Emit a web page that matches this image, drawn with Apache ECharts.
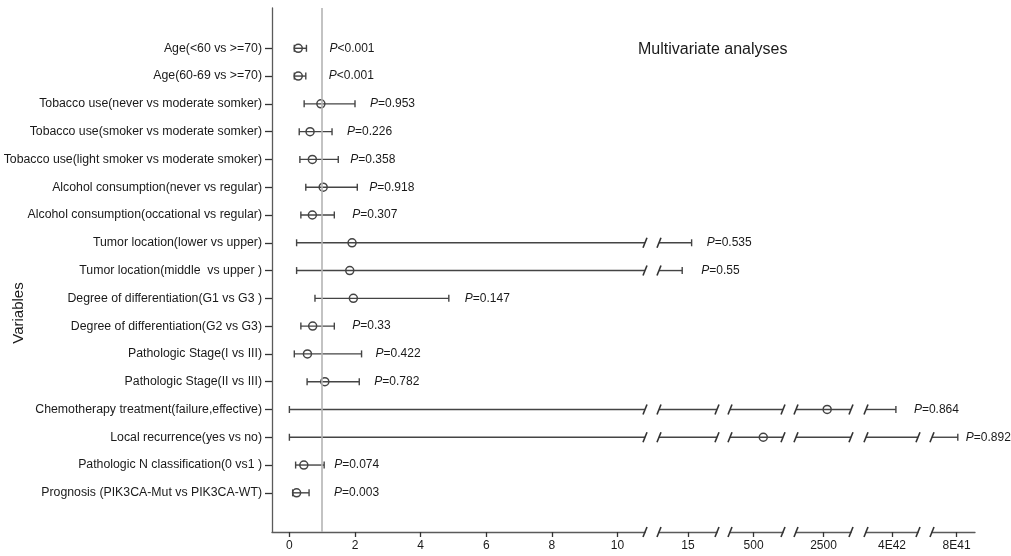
<!DOCTYPE html>
<html><head><meta charset="utf-8">
<script src="https://cdn.jsdelivr.net/npm/echarts@6/dist/echarts.min.js"></script>
<style>html,body{margin:0;padding:0;background:#fff}#c{width:1011px;height:556px}</style>
</head><body><div id="c"></div>
<script>
// ---------------- data ----------------
const categories = [
  'Age(<60 vs >=70)',
  'Age(60-69 vs >=70)',
  'Tobacco use(never vs moderate somker)',
  'Tobacco use(smoker vs moderate somker)',
  'Tobacco use(light smoker vs moderate smoker)',
  'Alcohol consumption(never vs regular)',
  'Alcohol consumption(occational vs regular)',
  'Tumor location(lower vs upper)',
  'Tumor location(middle  vs upper )',
  'Degree of differentiation(G1 vs G3 )',
  'Degree of differentiation(G2 vs G3)',
  'Pathologic Stage(I vs III)',
  'Pathologic Stage(II vs III)',
  'Chemotherapy treatment(failure,effective)',
  'Local recurrence(yes vs no)',
  'Pathologic N classification(0 vs1 )',
  'Prognosis (PIK3CA-Mut vs PIK3CA-WT)'
];
const lower    = [0.15, 0.15, 0.45, 0.30, 0.32, 0.50, 0.35, 0.22, 0.22, 0.78, 0.35, 0.15, 0.54, 0.0, 0.0, 0.19, 0.10];
const estimate = [0.27, 0.27, 0.96, 0.63, 0.70, 1.03, 0.70, 1.91, 1.84, 1.95, 0.71, 0.55, 1.08, 2700, 665, 0.44, 0.22];
const upper    = [0.52, 0.50, 2.00, 1.30, 1.49, 2.07, 1.37, 15.5, 14.2, 4.86, 1.37, 2.20, 2.13, 4.6e42, 8.4e41, 1.06, 0.60];
// which broken-axis segment each value sits on (0 = main 0..10 segment)
const lowerSeg    = [0,0,0,0,0,0,0,0,0,0,0,0,0,0,0,0,0];
const estimateSeg = [0,0,0,0,0,0,0,0,0,0,0,0,0,3,2,0,0];
const upperSeg    = [0,0,0,0,0,0,0,1,1,0,0,0,0,4,5,0,0];
const pValues = ['<0.001','<0.001','=0.953','=0.226','=0.358','=0.918','=0.307','=0.535','=0.55',
                 '=0.147','=0.33','=0.422','=0.782','=0.864','=0.892','=0.074','=0.003'];
// x-axis segments (broken axis)
const segMin = [-0.53, 11, 100, 1000, 0, 0];
const segMax = [10.84, 19, 1000, 4000, 8e42, 1.4e42];
const segTicks = [[0,2,4,6,8,10],[15],[500],[2500],[4e42],[8e41]];
const segTickLabels = [['0','2','4','6','8','10'],['15'],['500'],['2500'],['4E42'],['8E41']];
const refValue = 1;

// ---------------- layout / style ----------------
const gridBoxes = [[272,373],[659,58],[730,53],[796,55],[866,52],[932,43]];
const labelGapPx = [23,23,15,15,12,12,18,15,19,16,18,14,15,18,8,10,25];
const FONT = '"Liberation Sans", Arial, sans-serif';
const AXIS = '#5a5a5a', BAR = '#444444', TXT = '#1a1a1a';
const yMin = -1.45, yMax = 17.41;

const chart = echarts.init(document.getElementById('c'), null, {renderer:'canvas'});
const nSeg = gridBoxes.length;
const grids = [], xAxes = [], yAxes = [], series = [];
const rowData = categories.map((c,i)=>[i, lower[i], estimate[i], upper[i]]);

function slash(x, y) {
  return {type:'line', shape:{x1:x-2, y1:y+5, x2:x+2, y2:y-5},
          style:{stroke:'#333', lineWidth:1.6}};
}

for (let k = 0; k < nSeg; k++) {
  grids.push({left: gridBoxes[k][0], width: gridBoxes[k][1], top: 8, bottom: 24, containLabel:false});
  xAxes.push({
    type:'value', gridIndex:k, min:segMin[k], max:segMax[k],
    axisLine:{show:true, onZero:false, lineStyle:{color:AXIS, width:1.3}},
    axisTick:{show:true, length:5, customValues:segTicks[k], lineStyle:{color:'#333', width:1.3}},
    axisLabel:{show:true, customValues:segTicks[k], margin:8, color:TXT, fontSize:12, fontFamily:FONT,
      formatter:(v)=>{ const j = segTicks[k].findIndex(t=>Math.abs(t-v) <= Math.abs(t)*1e-9 + 1e-9); return j>=0 ? segTickLabels[k][j] : ''; }},
    splitLine:{show:false}
  });
  yAxes.push({
    type:'value', gridIndex:k, inverse:true, min:yMin, max:yMax, show: k===0,
    axisLine:{show:k===0, onZero:false, lineStyle:{color:AXIS, width:1.3}},
    axisTick:{show:k===0, length:7, customValues:categories.map((c,i)=>i), lineStyle:{color:'#333', width:1.3}},
    axisLabel:{show:k===0, customValues:categories.map((c,i)=>i), margin:10, color:TXT, fontSize:12.3, fontFamily:FONT,
      formatter:(v)=>categories[Math.round(v)] || ''},
    splitLine:{show:false}
  });

  const seg = k;
  const s = {
    type:'custom', xAxisIndex:k, yAxisIndex:k, silent:true, clip:false,
    data: rowData, encode:{x:[1,2,3], y:0},
    renderItem: function(params, api) {
      const i = api.value(0);
      if (seg < lowerSeg[i] || seg > upperSeg[i]) return;
      const cs = params.coordSys;
      const y = api.coord([segMin[seg], i])[1];
      const ch = [];
      let xl, xr;
      if (lowerSeg[i] === seg) {
        xl = api.coord([api.value(1), i])[0];
        ch.push({type:'line', shape:{x1:xl, y1:y-3.5, x2:xl, y2:y+3.5}, style:{stroke:BAR, lineWidth:1.4}});
      } else {
        xl = cs.x;
        ch.push(slash(xl, y));
      }
      if (upperSeg[i] === seg) {
        xr = api.coord([api.value(3), i])[0];
        ch.push({type:'line', shape:{x1:xr, y1:y-3.5, x2:xr, y2:y+3.5}, style:{stroke:BAR, lineWidth:1.4}});
        ch.push({type:'text', style:{
          text:'{i|P}{n|' + pValues[i] + '}', x:xr + labelGapPx[i], y:y, align:'left', verticalAlign:'middle',
          rich:{i:{fontStyle:'italic', fontSize:12, fontFamily:FONT, fill:TXT, color:TXT},
                n:{fontSize:12, fontFamily:FONT, fill:TXT, color:TXT}}
        }});
      } else {
        xr = cs.x + cs.width;
        ch.push(slash(xr, y));
      }
      ch.unshift({type:'line', shape:{x1:xl, y1:y, x2:xr, y2:y}, style:{stroke:BAR, lineWidth:1.4}});
      if (estimateSeg[i] === seg) {
        const p = api.coord([api.value(2), i]);
        ch.push({type:'circle', shape:{cx:p[0], cy:p[1], r:4}, style:{stroke:BAR, lineWidth:1.5, fill:'rgba(0,0,0,0)'}});
      }
      return {type:'group', children:ch};
    }
  };
  if (k === 0) {
    s.markLine = {symbol:'none', silent:true, label:{show:false},
      lineStyle:{color:'#b4b4b4', type:'solid', width:1.6},
      data:[{xAxis:refValue}]};
    s.z = 3;
  }
  series.push(s);
  // axis break marks
  series.push({
    type:'custom', xAxisIndex:k, yAxisIndex:k, silent:true, clip:false, data:[[segMin[k], yMax]],
    renderItem: function(params, api) {
      const cs = params.coordSys;
      const yb = cs.y + cs.height;
      const ch = [];
      if (seg > 0) ch.push(slash(cs.x, yb));
      if (seg < nSeg-1) ch.push(slash(cs.x + cs.width, yb));
      return {type:'group', children:ch};
    }
  });
}

chart.setOption({
  animation:false,
  backgroundColor:'#fff',
  textStyle:{fontFamily:FONT},
  title:{text:'Multivariate analyses', left:633, top:37,
    textStyle:{fontSize:16, fontWeight:'normal', color:TXT, fontFamily:FONT}},
  graphic:[{type:'text', x:19, y:313, rotation:Math.PI/2,
    style:{text:'Variables', fontSize:15, fontFamily:FONT, fill:TXT, align:'center', verticalAlign:'middle'}}],
  grid:grids, xAxis:xAxes, yAxis:yAxes, series:series
});
</script></body></html>
